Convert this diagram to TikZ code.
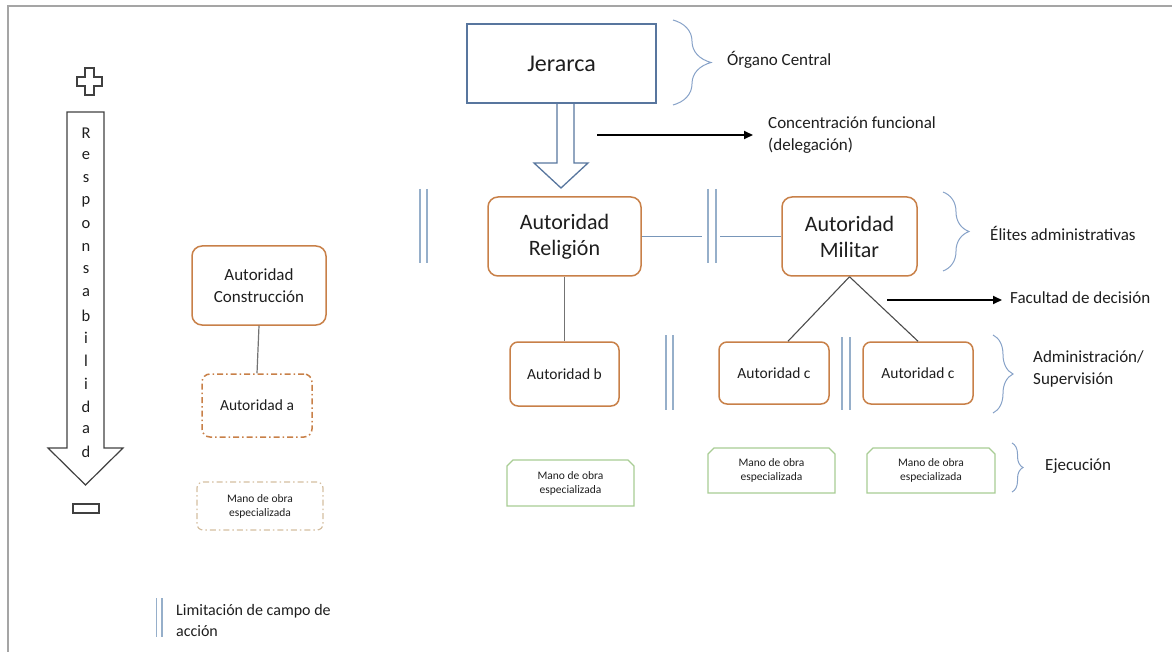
\documentclass[tikz,border=0pt]{standalone}
\usepackage{fontspec}
\setmainfont{Carlito}
\usetikzlibrary{shapes.misc,decorations.pathreplacing,arrows.meta,calc}
\definecolor{orng}{RGB}{200,128,72}
\definecolor{bluegray}{RGB}{88,118,158}
\definecolor{dbl}{RGB}{150,175,202}
\definecolor{conn}{RGB}{120,150,185}
\definecolor{grayline}{RGB}{115,115,115}
\definecolor{grn}{RGB}{168,204,148}
\definecolor{beige}{RGB}{212,190,160}
\definecolor{brc}{RGB}{135,162,200}
\definecolor{txt}{RGB}{30,30,30}
\definecolor{frame}{RGB}{165,165,165}
\tikzset{
  bigbox/.style={draw=orng, line width=1.5pt, rounded corners=10pt, align=center, text=txt, inner sep=2pt, font=\fontsize{22}{26}\selectfont},
  smallbox/.style={draw=orng, line width=1.5pt, rounded corners=8pt, align=center, text=txt, inner sep=2pt, font=\fontsize{15.5}{19}\selectfont},
  mano/.style={draw=grn, line width=1.2pt, chamfered rectangle, chamfered rectangle corners={north west,north east}, chamfered rectangle xsep=3pt, chamfered rectangle ysep=3pt, align=center, text=txt, inner sep=2pt, font=\fontsize{11.5}{14}\selectfont},
  dbline/.style={draw=dbl, line width=1.3pt},
  lbl/.style={anchor=west, text=txt, align=left, inner sep=0pt, font=\fontsize{17}{22}\selectfont},
  brace/.style={draw=brc, line width=1pt, decorate, decoration={brace, amplitude=#1}},
  blk/.style={-{Triangle[length=9pt,width=8pt]}, line width=1.8pt, black},
  letter/.style={text=txt, inner sep=0pt, font=\fontsize{16.5}{18}\selectfont}
}
\begin{document}
\begin{tikzpicture}[x=1pt,y=-1pt]
\useasboundingbox (0,0) rectangle (1172,652);
% frame
\draw[frame, line width=2pt] (1172,6) -- (8,6) -- (8,652);

% responsibility arrow
\draw[line width=1.2pt, draw=black!75] (85,68)--(94,68)--(94,77)--(102,77)--(102,86)--(94,86)--(94,95)--(85,95)--(85,86)--(77,86)--(77,77)--(85,77)--cycle;
\draw[line width=1.2pt, draw=black!75] (67,112)--(104,112)--(104,448)--(123,448)--(85.5,485)--(48,448)--(67,448)--cycle;
\foreach \l [count=\i from 0] in {R,e,s,p,o,n,s,a,b,i,l,i,d,a,d}
  \node[letter] (r\i) at (86,133+\i*22.8) {\l};
\draw[line width=1.2pt, draw=black!75] (73,504) rectangle (99,513);

% left column
\node[bigbox, minimum width=134pt, minimum height=79pt, font=\fontsize{17}{22}\selectfont] (con) at (259,285.5) {Autoridad\\Construcción};
\node[smallbox, dash pattern=on 6pt off 3pt on 1.5pt off 3pt, minimum width=110pt, minimum height=63pt] (aa) at (257,405.5) {Autoridad a};
\node[draw=beige, line width=1.2pt, rounded corners=6pt, dash pattern=on 6pt off 3pt on 1.5pt off 3pt, align=center, text=txt, font=\fontsize{11.5}{14}\selectfont, minimum width=126pt, minimum height=48pt] (manoL) at (260,506) {Mano de obra\\especializada};
\draw[grayline, line width=1.2pt] (con.south) -- (aa.north);

% top
\node[draw=bluegray, line width=1.5pt, text=txt, font=\fontsize{24}{28}\selectfont, minimum width=189pt, minimum height=79pt] (jer) at (561.5,63.5) {Jerarca};
\draw[draw=bluegray, line width=1.3pt] (557,103)--(557,163)--(534,163)--(561,188)--(588,163)--(574,163)--(574,103);
\draw[brace=38pt] (673,20) -- (673,105);
\node[lbl] (org) at (727,60) {Órgano Central};
\coordinate (ca) at (597,135);
\node[lbl] (conc) at (768,135) {Concentración funcional\\(delegación)};
\draw[blk] (ca) -- ([xshift=-15pt]conc.west);

% middle row
\node[bigbox, minimum width=153pt, minimum height=79pt] (rel) at (564.5,236.5) {Autoridad\\Religión};
\node[bigbox, minimum width=135pt, minimum height=79pt] (mil) at (849.5,236.5) {Autoridad\\Militar};
\coordinate (g1) at (702,236.5);
\coordinate (g2) at (720,236.5);
\draw[conn, line width=1.1pt] (rel.east) -- (g1);
\draw[conn, line width=1.1pt] (g2) -- (mil.west);
\draw[dbline] (420,189) -- (420,263);
\draw[dbline] (427,189) -- (427,263);
\draw[dbline] (708,189) -- (708,263);
\draw[dbline] (716,189) -- (716,263);
\draw[brace=26pt] (943,192) -- (943,271);
\node[lbl] (eli) at (990,233) {Élites administrativas};

% decision
\coordinate (fa) at (887,300);
\node[lbl] (fac) at (1010,298) {Facultad de decisión};
\draw[blk] (fa) -- ([xshift=-8pt]fac.west |- fa);

% third row
\node[smallbox, minimum width=109pt, minimum height=64pt] (ab) at (564.5,374) {Autoridad b};
\node[smallbox, minimum width=110pt, minimum height=62pt] (c1) at (774,373) {Autoridad c};
\node[smallbox, minimum width=110pt, minimum height=62pt] (c2) at (918,373) {Autoridad c};
\draw[grayline, line width=1.2pt] (rel.south) -- (ab.north);
\draw[black!70, line width=1.1pt] (mil.south) -- ([xshift=14pt]c1.north);
\draw[black!70, line width=1.1pt] (mil.south) -- (c2.north);
\draw[dbline] (666,335) -- (666,410);
\draw[dbline] (673,335) -- (673,410);
\draw[dbline] (842,337) -- (842,410);
\draw[dbline] (850,337) -- (850,410);
\draw[brace=20pt] (993,335) -- (993,413);
\node[lbl] (adm) at (1033,369) {Administración/\\Supervisión};

% bottom row
\node[mano, minimum width=127pt, minimum height=46pt] (mb) at (570.5,483) {Mano de obra\\especializada};
\node[mano, minimum width=127pt, minimum height=45pt] (mc1) at (771.5,470.5) {Mano de obra\\especializada};
\node[mano, minimum width=128pt, minimum height=45pt] (mc2) at (931,470.5) {Mano de obra\\especializada};
\draw[brace=11pt] (1012,443) -- (1012,492);
\node[lbl] (eje) at (1045,466) {Ejecución};

% legend
\draw[dbline] (156.5,598) -- (156.5,637);
\draw[dbline] (162,598) -- (162,637);
\node[lbl, font=\fontsize{16}{21}\selectfont] (leg) at (176,620) {Limitación de campo de\\acción};
\end{tikzpicture}
\end{document}
